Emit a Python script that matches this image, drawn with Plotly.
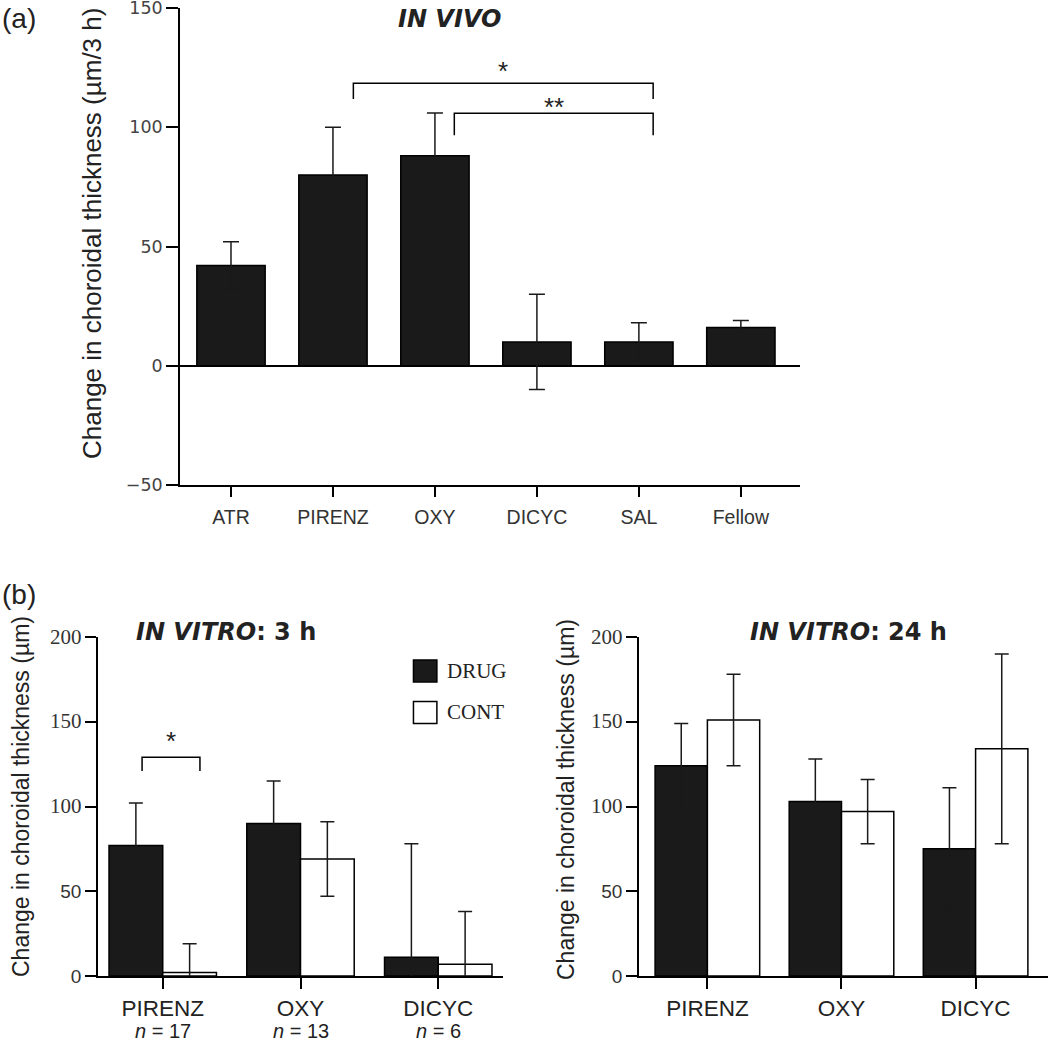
import plotly.graph_objects as go

# ---------------- data ----------------
cats_a = ["ATR", "PIRENZ", "OXY", "DICYC", "SAL", "Fellow"]
vals_a = [42, 80, 88, 10, 10, 16]
err_a = [10, 20, 18, 20, 8, 3]

cats_b = ["PIRENZ", "OXY", "DICYC"]
n_b = [17, 13, 6]
drug_3h = [77, 90, 11]
drug_3h_err = [25, 25, 67]
cont_3h = [2, 69, 7]
cont_3h_err = [17, 22, 31]
drug_24h = [124, 103, 75]
drug_24h_err = [25, 25, 36]
cont_24h = [151, 97, 134]
cont_24h_err = [27, 19, 56]

yticks_a = [-50, 0, 50, 100, 150]
yticks_b = [0, 50, 100, 150, 200]

# ---------------- helpers ----------------
W, H = 1050, 1044
def px(x): return x / W
def py(y): return 1 - y / H

BLACK = "#1a1a1a"
SANS = "DejaVu Sans"
ARIAL = "Liberation Sans"
SERIF = "Liberation Serif"

xa = list(range(len(cats_a)))
xb = list(range(len(cats_b)))

fig = go.Figure()

def bar(x, y, err, fill, xa_, ya_, ew=7, width=None):
    return go.Bar(
        x=x, y=y, width=width,
        marker=dict(color=fill, line=dict(color="black", width=1.5)),
        error_y=dict(type="data", array=err, color=BLACK, thickness=1.5, width=ew),
        xaxis=xa_, yaxis=ya_, showlegend=False)

fig.add_trace(bar(xa, vals_a, err_a, BLACK, "x", "y", ew=8, width=0.67))
fig.add_trace(bar(xb, drug_3h, drug_3h_err, BLACK, "x2", "y2"))
fig.add_trace(bar(xb, cont_3h, cont_3h_err, "white", "x2", "y2"))
fig.add_trace(bar(xb, drug_24h, drug_24h_err, BLACK, "x3", "y3"))
fig.add_trace(bar(xb, cont_24h, cont_24h_err, "white", "x3", "y3"))

axis_common = dict(showline=True, linecolor="black", linewidth=1.5,
                   ticks="outside", tickcolor="black", tickwidth=1.5,
                   showgrid=False, zeroline=False, automargin=False,
                   ticklabeloverflow="allow")

def ytick_text(v):
    if v >= 100:
        return f"<span style=\"font-family:'Liberation Serif', serif; font-size:21px\">{v}</span>"
    return str(v)

fig.update_layout(
    width=W, height=H,
    margin=dict(l=0, r=0, t=0, b=0, autoexpand=False),
    paper_bgcolor="white", plot_bgcolor="white",
    barmode="group", bargap=0.22, bargroupgap=0,
    xaxis=dict(domain=[px(180), px(800)], anchor="y", range=[-0.5, 5.58],
               tickvals=xa, ticktext=cats_a, ticklen=10, ticklabelstandoff=4,
               tickfont=dict(family=ARIAL, size=19.5, color="#333"), **axis_common),
    yaxis=dict(domain=[py(485), py(8)], anchor="x", range=[-50, 150],
               tickvals=yticks_a, ticklen=12,
               tickfont=dict(family=SANS, size=17.5, color="#444"),
               **{**axis_common, "zeroline": True}, zerolinecolor="black", zerolinewidth=1.5),
    xaxis2=dict(domain=[px(98), px(503)], anchor="y2", range=[-0.47, 2.47],
                tickvals=xb, ticktext=cats_b,
                ticklen=11, tickfont=dict(family=ARIAL, size=22.5, color="#222"), **axis_common),
    yaxis2=dict(domain=[py(976), py(637)], anchor="x2", range=[0, 200],
                tickvals=yticks_b, ticktext=[ytick_text(v) for v in yticks_b], ticklen=11,
                tickfont=dict(family=ARIAL, size=19, color="#333"), **axis_common),
    xaxis3=dict(domain=[px(639), px(1048)], anchor="y3", range=[-0.51, 2.54],
                tickvals=xb, ticktext=cats_b,
                ticklen=11, tickfont=dict(family=ARIAL, size=22.5, color="#222"), **axis_common),
    yaxis3=dict(domain=[py(976), py(637)], anchor="x3", range=[0, 200],
                tickvals=yticks_b, ticktext=[ytick_text(v) for v in yticks_b], ticklen=11,
                tickfont=dict(family=ARIAL, size=19, color="#333"), **axis_common),
)

shapes = []
def bracket(xref, yref, x0, x1, ytop, ybot):
    shapes.append(dict(type="path", xref=xref, yref=yref,
                       path=f"M {x0},{ybot} L {x0},{ytop} L {x1},{ytop} L {x1},{ybot}",
                       line=dict(color="black", width=1.5)))

bracket("x", "y", 1.2, 4.14, 118.5, 111.8)
bracket("x", "y", 2.19, 4.14, 105.9, 96.6)
bracket("x2", "y2", -0.15, 0.27, 129, 121)

# legend squares
shapes.append(dict(type="rect", xref="x2", yref="y2", x0=1.82, x1=1.99, y0=173.5, y1=186.4,
                   fillcolor=BLACK, line=dict(color="black", width=1.5)))
shapes.append(dict(type="rect", xref="x2", yref="y2", x0=1.82, x1=1.99, y0=149, y1=162,
                   fillcolor="white", line=dict(color="black", width=1.5)))
fig.update_layout(shapes=shapes)

ann = []
def a(**kw):
    base = dict(showarrow=False, xanchor="center", yanchor="middle")
    base.update(kw)
    ann.append(base)

# panel labels
a(text="(a)", x=px(0), y=py(18), xref="paper", yref="paper", xanchor="left",
  font=dict(family=ARIAL, size=28, color="#222"))
a(text="(b)", x=px(0), y=py(594), xref="paper", yref="paper", xanchor="left",
  font=dict(family=ARIAL, size=28, color="#222"))

# titles
a(text="<b><i>IN VIVO</i></b>", x=px(449), y=py(19), xref="paper", yref="paper",
  font=dict(family=SANS, size=24, color="#222"))
a(text="<b><i>IN VITRO</i>: 3 h</b>", x=px(226), y=py(632), xref="paper", yref="paper",
  font=dict(family=SANS, size=24, color="#222"))
a(text="<b><i>IN VITRO</i>: 24 h</b>", x=px(848), y=py(632), xref="paper", yref="paper",
  font=dict(family=SANS, size=24, color="#222"))

# y-axis titles
a(text="Change in choroidal thickness (µm/3 h)", x=px(92), y=py(234), xref="paper", yref="paper",
  textangle=-90, font=dict(family=ARIAL, size=26, color="#222"))
a(text="Change in choroidal thickness (µm)", x=px(21), y=py(797), xref="paper", yref="paper",
  textangle=-90, font=dict(family=ARIAL, size=23, color="#222"))
a(text="Change in choroidal thickness (µm)", x=px(566), y=py(800), xref="paper", yref="paper",
  textangle=-90, font=dict(family=ARIAL, size=23, color="#222"))

# sample sizes under the 3 h categories
for i, n in zip(xb, n_b):
    a(text=f"<i>n</i> = {n}", x=i, y=py(1031), xref="x2", yref="paper",
      font=dict(family=ARIAL, size=20, color="#222"))

# significance stars
a(text="*", x=(1.2 + 4.14) / 2, y=116.4, xref="x", yref="y", yanchor="bottom",
  font=dict(family=ARIAL, size=26, color="#222"))
a(text="**", x=(2.19 + 4.14) / 2, y=101.3, xref="x", yref="y", yanchor="bottom",
  font=dict(family=ARIAL, size=26, color="#222"))
a(text="*", x=0.06, y=128.9, xref="x2", yref="y2", yanchor="bottom",
  font=dict(family=ARIAL, size=26, color="#222"))

# legend text
a(text="DRUG", x=2.05, y=180, xref="x2", yref="y2", xanchor="left",
  font=dict(family=SERIF, size=21, color="#222"))
a(text="CONT", x=2.05, y=155.5, xref="x2", yref="y2", xanchor="left",
  font=dict(family=SERIF, size=21, color="#222"))

fig.update_layout(annotations=ann)
fig.write_html("out.html", config={"displayModeBar": False},
               post_script="document.body.style.margin='0';")
